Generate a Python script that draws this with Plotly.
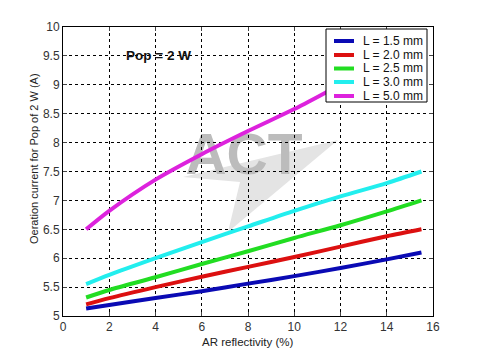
import plotly.graph_objects as go

# Data
reflectivity = [1, 2, 4, 6, 8, 10, 12, 14, 15.5]
series_names = ["L = 1.5 mm", "L = 2.0 mm", "L = 2.5 mm", "L = 3.0 mm", "L = 5.0 mm"]
current_15 = [5.13, 5.19, 5.31, 5.43, 5.56, 5.69, 5.83, 5.98, 6.10]
current_20 = [5.20, 5.31, 5.50, 5.68, 5.85, 6.02, 6.20, 6.38, 6.50]
current_25 = [5.32, 5.45, 5.67, 5.90, 6.12, 6.35, 6.57, 6.81, 7.00]
current_30 = [5.55, 5.71, 6.00, 6.28, 6.55, 6.82, 7.07, 7.30, 7.50]
current_50 = [6.50, 6.82, 7.36, 7.80, 8.20, 8.58, 9.00, 9.40, 9.75]
series_values = [current_15, current_20, current_25, current_30, current_50]
colors = ["#0a0ab4", "#dc1010", "#22dd22", "#22eeee", "#dd22dd"]

x_ticks = [0, 2, 4, 6, 8, 10, 12, 14, 16]
y_ticks = [5, 5.5, 6, 6.5, 7, 7.5, 8, 8.5, 9, 9.5, 10]
y_tick_labels = ["5", "5.5", "6", "6.5", "7", "7.5", "8", "8.5", "9", "9.5", "10"]

FONT = "Liberation Sans, Arial, sans-serif"

fig = go.Figure()
for name, vals, col in zip(series_names, series_values, colors):
    fig.add_trace(go.Scatter(x=reflectivity, y=vals, mode="lines", name=name,
                             line=dict(color=col, width=4, shape="spline", smoothing=0.8)))

# page pixels of the plot area: x 63..433, y 27..316 (page has an 8px body offset)
PL, PR, PT, PB = 63, 433, 27, 316

def px(X):
    return (X - PL) / float(PR - PL)

def py(Y):
    return (PB - Y) / float(PB - PT)

# watermark swoosh + text
path = "M {:.4f},{:.4f} L {:.4f},{:.4f} L {:.4f},{:.4f} L {:.4f},{:.4f} Z".format(
    px(183), py(177), px(338), py(140), px(228), py(232), px(240), py(182))
shapes = [
    dict(type="path", path=path, xref="paper", yref="paper", layer="below",
         fillcolor="#e4e4e4", line=dict(width=0)),
    dict(type="rect", xref="paper", yref="paper", layer="below",
         x0=px(184), x1=px(304), y0=py(176), y1=py(122),
         line=dict(width=0), fillcolor="rgba(0,0,0,0)",
         label=dict(text="<b>ACT</b>", font=dict(family=FONT, size=57, color="#bcbcbc"),
                    textposition="middle center")),
]

# custom legend box
LEG_L, LEG_R, LEG_T, LEG_B = 326, 427, 29, 102
shapes.append(dict(type="rect", xref="paper", yref="paper", layer="above",
                   x0=px(LEG_L), x1=px(LEG_R), y0=py(LEG_B), y1=py(LEG_T),
                   fillcolor="white", line=dict(color="black", width=1)))
legend_rows = [41, 55, 68.5, 82, 96]
annotations = []
for name, col, ry in zip(series_names, colors, legend_rows):
    shapes.append(dict(type="line", xref="paper", yref="paper", layer="above",
                       x0=px(334), x1=px(354), y0=py(ry), y1=py(ry),
                       line=dict(color=col, width=4)))
    annotations.append(dict(x=px(361), y=py(ry), xref="paper", yref="paper", text=name,
                            showarrow=False, xanchor="left", yanchor="middle",
                            font=dict(family=FONT, size=12, color="#111")))

annotations.append(dict(x=px(124), y=py(55), xref="paper", yref="paper", text="<b>Pop = 2 W</b>",
                        showarrow=False, xanchor="left", yanchor="middle",
                        font=dict(family=FONT, size=13.5, color="#111")))
annotations.append(dict(x=px(247.5), y=py(342), xref="paper", yref="paper",
                        text="AR reflectivity (%)", showarrow=False,
                        xanchor="center", yanchor="middle",
                        font=dict(family=FONT, size=11.5, color="#222")))
annotations.append(dict(x=px(34), y=py(159), xref="paper", yref="paper",
                        text="Oeration current for Pop of 2 W (A)", showarrow=False,
                        textangle=-90, xanchor="center", yanchor="middle",
                        font=dict(family=FONT, size=11, color="#222")))

fig.update_layout(
    width=478, height=357,
    margin=dict(l=PL - 8, r=478 - (PR - 8), t=PT - 8, b=357 - (PB - 8)),
    paper_bgcolor="white", plot_bgcolor="white",
    font=dict(family=FONT, size=12, color="#222"),
    showlegend=False,
    shapes=shapes,
    annotations=annotations,
)
fig.update_xaxes(range=[0, 16], tickvals=x_ticks, ticks="inside", ticklen=4,
                 showline=True, linecolor="black", linewidth=1, mirror="allticks",
                 showgrid=True, gridcolor="black", griddash="dot", gridwidth=1,
                 zeroline=False, tickfont=dict(size=12, color="#333"))
fig.update_yaxes(range=[5, 10], tickvals=y_ticks, ticktext=y_tick_labels, ticks="inside", ticklen=4,
                 showline=True, linecolor="black", linewidth=1, mirror="allticks",
                 showgrid=True, gridcolor="black", griddash="dot", gridwidth=1,
                 zeroline=False, tickfont=dict(size=12, color="#333"))

fig.write_html("out.html")
